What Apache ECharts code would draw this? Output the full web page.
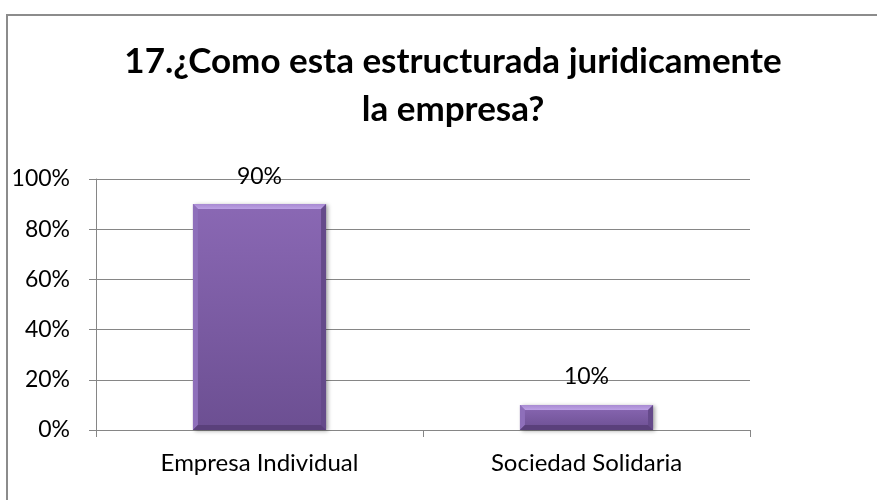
<!DOCTYPE html>
<html>
<head>
<meta charset="utf-8">
<script src="https://cdn.jsdelivr.net/npm/echarts@6/dist/echarts.min.js"></script>
<style>
  html, body { margin: 0; padding: 0; background: #fff; }
  #chart { width: 877px; height: 500px; }
</style>
</head>
<body>
<div id="chart"></div>
<script>
// Question 17: legal structure of the surveyed businesses
const titleLines = ['17.¿Como esta estructurada juridicamente', 'la empresa?'];
const categories = ['Empresa Individual', 'Sociedad Solidaria'];
const shares = [90, 10];            // percent of respondents
const yTicks = [0, 20, 40, 60, 80, 100];

const FONT = 'Lato, "Open Sans", sans-serif';
const chart = echarts.init(document.getElementById('chart'));

// Bevelled purple column drawn from the axis scales
function renderBevelBar(params, api) {
  const cat = api.value(0);
  const val = api.value(1);
  const top = api.coord([cat, val]);
  const base = api.coord([cat, 0]);
  const bw = api.size([1, 0])[0] * 0.407;
  const x0 = top[0] - bw / 2, x1 = top[0] + bw / 2;
  const y0 = top[1], y1 = base[1];
  const b = Math.min(5, (y1 - y0) / 3);
  const face = new echarts.graphic.LinearGradient(0, 0, 0, 1, [
    { offset: 0, color: '#8a68b4' },
    { offset: 1, color: '#6c4f92' }
  ]);
  return {
    type: 'group',
    children: [
      { type: 'rect', shape: { x: x0, y: y0, width: bw, height: y1 - y0 },
        style: { fill: face, shadowBlur: 4, shadowOffsetX: 2, shadowOffsetY: 1, shadowColor: 'rgba(0,0,0,0.35)' } },
      { type: 'polygon', shape: { points: [[x0, y0], [x1, y0], [x1 - b, y0 + b], [x0 + b, y0 + b]] },
        style: { fill: new echarts.graphic.LinearGradient(0, 0, 0, 1, [
          { offset: 0, color: '#a88ad2' }, { offset: 1, color: '#bca1e4' }]) } },
      { type: 'polygon', shape: { points: [[x0, y0], [x0 + b, y0 + b], [x0 + b, y1 - b], [x0, y1]] },
        style: { fill: '#8e6fba' } },
      { type: 'polygon', shape: { points: [[x1, y0], [x1 - b, y0 + b], [x1 - b, y1 - b], [x1, y1]] },
        style: { fill: '#654a8a' } },
      { type: 'polygon', shape: { points: [[x0, y1], [x0 + b, y1 - b], [x1 - b, y1 - b], [x1, y1]] },
        style: { fill: '#5a407b' } },
      { type: 'text', x: top[0], y: y0 - 28,
        style: { text: val + '%', fill: '#000', font: '23px ' + FONT, align: 'center', verticalAlign: 'middle' } }
    ]
  };
}

chart.setOption({
  animation: false,
  backgroundColor: '#fff',
  graphic: [{
    type: 'rect', silent: true, z: -1,
    shape: { x: 7, y: 15, width: 1000, height: 1000 },
    style: { fill: 'none', stroke: '#8c8c8c', lineWidth: 2 }
  }],
  title: {
    text: titleLines.join('\n'),
    left: 448, top: 33, textAlign: 'center',
    textStyle: { fontFamily: FONT, fontWeight: 'bold', fontSize: 35, lineHeight: 48, color: '#000' }
  },
  grid: { left: 96, right: 127, top: 179, bottom: 70, containLabel: false },
  xAxis: {
    type: 'category',
    data: categories,
    boundaryGap: true,
    axisLine: { lineStyle: { color: '#868686', width: 1 } },
    axisTick: { show: true, length: 7, alignWithLabel: false, lineStyle: { color: '#868686' } },
    axisLabel: { color: '#000', fontFamily: FONT, fontSize: 24, margin: 21 }
  },
  yAxis: {
    type: 'value',
    min: yTicks[0], max: yTicks[yTicks.length - 1], interval: 20,
    axisLine: { show: true, lineStyle: { color: '#868686', width: 1 } },
    axisTick: { show: true, length: 7, lineStyle: { color: '#868686' } },
    axisLabel: { color: '#000', fontFamily: FONT, fontSize: 23, margin: 26, formatter: '{value}%' },
    splitLine: { show: true, lineStyle: { color: '#868686', width: 1 } }
  },
  series: [{
    type: 'custom',
    renderItem: renderBevelBar,
    encode: { x: 0, y: 1 },
    data: categories.map((c, i) => [i, shares[i]])
  }]
});
</script>
</body>
</html>
